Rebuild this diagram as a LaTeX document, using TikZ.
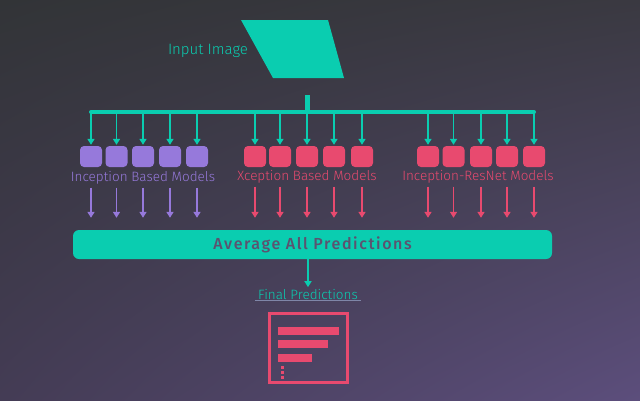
\documentclass[tikz,border=0pt]{standalone}
\usepackage{fontspec}
\setmainfont{Fira Sans}[UprightFont=* Light, BoldFont=* Medium]
\usetikzlibrary{arrows.meta,calc,shadings}
\definecolor{tealc}{HTML}{0ACDB0}
\definecolor{purpc}{HTML}{9679DB}
\definecolor{redc}{HTML}{E84A6F}
\definecolor{avgtxt}{HTML}{5B5370}
\definecolor{ulc}{HTML}{7F86A8}
\definecolor{bgtl}{HTML}{323437}
\definecolor{bgtr}{HTML}{3A3941}
\definecolor{bgbl}{HTML}{443C55}
\definecolor{bgbr}{HTML}{5C4E7C}
\begin{document}
\begin{tikzpicture}[x=1pt,y=-1pt,
  mbox/.style={minimum width=22pt,minimum height=21pt,rounded corners=4pt,inner sep=0pt},
  pbox/.style={mbox,fill=purpc},
  rbox/.style={mbox,fill=redc},
  tarrow/.style={draw=tealc,line width=1.6pt,-{Triangle[length=6pt,width=7pt]}},
  parrow/.style={draw=purpc,line width=1.6pt,-{Triangle[length=6pt,width=7pt]}},
  rarrow/.style={draw=redc,line width=1.6pt,-{Triangle[length=6pt,width=7pt]}},
  lbl/.style={font=\fontsize{13.5}{15}\selectfont,inner sep=1pt}
]
\useasboundingbox (0,0) rectangle (640,400);
\shade[upper left=bgtl, upper right=bgtr, lower left=bgbl, lower right=bgbr] (0,0) rectangle (640,400);
% input image
\fill[tealc] (241,20) -- (328,20) -- (344,78) -- (273,78) -- cycle;
\node[text=tealc, font=\fontsize{15}{17}\selectfont] (inlbl) at (208,51) {Input Image};
\coordinate (stub) at (307,95);
\coordinate (bus) at (307,112);
% model boxes
\foreach \n/\x in {1/91,2/116.5,3/143,4/170,5/197} \node[pbox] (i\n) at (\x,156.5) {};
\foreach \n/\x in {1/255,2/280,3/307,4/334,5/362} \node[rbox] (x\n) at (\x,156.5) {};
\foreach \n/\x in {1/428,2/453.5,3/481,4/507,5/534} \node[rbox] (r\n) at (\x,156.5) {};
% bus
\draw[tealc,line width=5pt] (stub) -- (bus);
\draw[tealc,line width=4pt,line cap=round] (i1.north |- bus) -- (r5.north |- bus);
\foreach \g in {i,x,r}{
  \foreach \n in {1,...,5} \draw[tarrow,shorten >=1pt] (\g\n.north |- bus) -- (\g\n.north);
}
% labels
\node[lbl,text=purpc] (ilbl) at (143,178) {Inception Based Models};
\node[lbl,text=redc] (xlbl) at (307,177) {Xception Based Models};
\node[lbl,text=redc] (rlbl) at (478,177) {Inception-ResNet Models};
% average
\node[fill=tealc,rounded corners=6pt,minimum width=479pt,minimum height=29pt,inner sep=0pt,
  text=avgtxt,font=\fontsize{16}{18}\selectfont\bfseries\addfontfeatures{LetterSpace=10}] (avg) at (312.5,244.5) {Average All Predictions};
\foreach \n in {1,...,5}{
  \draw[parrow,shorten <=2pt,shorten >=12pt] (i\n |- ilbl.south) -- (i\n |- avg.north);
  \draw[rarrow,shorten <=2pt,shorten >=12pt] (x\n |- xlbl.south) -- (x\n |- avg.north);
  \draw[rarrow,shorten <=2pt,shorten >=12pt] (r\n |- rlbl.south) -- (r\n |- avg.north);
}
% final
\node[text=tealc,font=\fontsize{13.5}{15}\selectfont,inner xsep=3pt,inner ysep=1.5pt] (final) at (308,294) {Final Predictions};
\draw[tarrow] (final.north |- avg.south) -- (final.north);
\draw[ulc,line width=1pt] (final.south west) -- (final.south east);
% document icon
\node[draw=redc,line width=3pt,minimum width=78pt,minimum height=69pt,inner sep=0pt] (doc) at (308.5,348) {};
\fill[redc] (278,327) rectangle (339,335);
\fill[redc] (278,340) rectangle (328,348);
\fill[redc] (278,354) rectangle (312,362);
\foreach \y in {365.5,370.5,375.5} \fill[redc] (280.5,\y) rectangle ++(3,3);
\end{tikzpicture}
\end{document}
